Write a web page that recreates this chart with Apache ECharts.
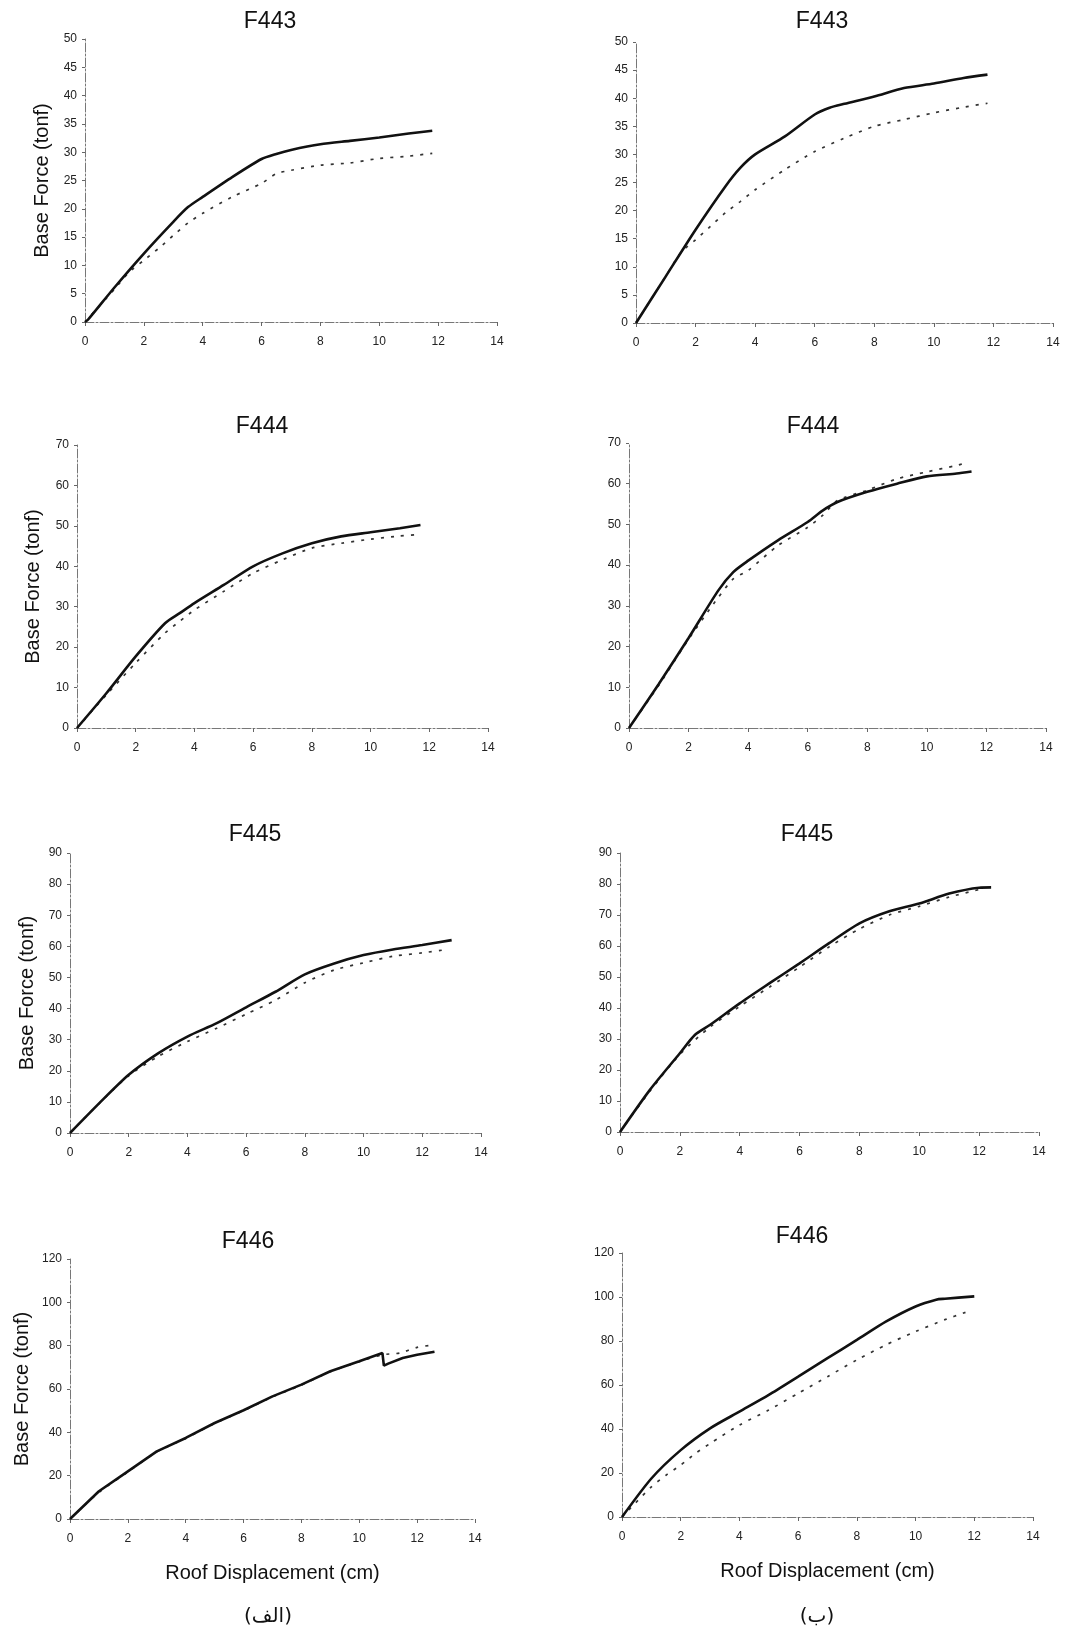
<!DOCTYPE html>
<html>
<head>
<meta charset="utf-8">
<script src="https://cdn.jsdelivr.net/npm/echarts@6/dist/echarts.min.js"></script>
<style>
html,body{margin:0;padding:0;background:#fff;}
#chart{width:1073px;height:1636px;}
</style>
</head>
<body>
<div id="chart"></div>
<script>
// ---------- DATA ----------
const panelTitles = ['F443', 'F443', 'F444', 'F444', 'F445', 'F445', 'F446', 'F446'];
const yMax = [50, 50, 70, 70, 90, 90, 120, 120];
const yStep = [5, 5, 10, 10, 10, 10, 20, 20];
const xMax = 14;
const xStep = 2;
const yAxisName = 'Base Force (tonf)';
const xAxisName = 'Roof Displacement (cm)';
const subLabels = ['(الف)', '(ب)'];

// F443 left
const f443L_solid = [[0,0],[0.1,0.4],[1,6.1],[2,12.1],[3,17.7],[3.5,20.3],[4,22.1],[5,25.6],[6,28.8],[6.5,29.7],[7,30.4],[8,31.4],[9,32.0],[10,32.6],[11,33.3],[11.8,33.8]];
const f443L_dash  = [[0,0],[1,5.8],[1.5,8.8],[2,10.9],[2.5,13.0],[3,15.3],[3.5,17.5],[4,19.2],[5,22.1],[6,24.5],[6.5,26.2],[7,26.8],[8,27.7],[9,28.1],[10,28.9],[11,29.3],[11.8,29.8]];
// F443 right
const f443R_solid = [[0,0],[1,8.3],[2,16.6],[3,24.3],[3.5,27.6],[4,30.0],[5,33.2],[6,37.1],[6.5,38.3],[7,39.0],[8,40.3],[9,41.8],[10,42.6],[11,43.6],[11.8,44.2]];
const f443R_dash  = [[0,0],[1,8.3],[1.5,12.5],[2,14.8],[2.5,17.2],[3,19.6],[3.5,21.6],[4,23.7],[5,27.3],[6,30.5],[7,32.9],[8,35.0],[9,36.2],[10,37.4],[11,38.4],[11.8,39.1]];
// F444 left
const f444L_solid = [[0,0],[1,8.6],[2,17.7],[3,25.9],[3.5,28.4],[4,30.9],[5,35.4],[6,40.0],[7,43.2],[8,45.7],[9,47.4],[10,48.4],[11,49.4],[11.7,50.2]];
const f444L_dash  = [[0,0],[1,8.2],[2,16.1],[3,23.5],[3.5,26.4],[4,29.2],[5,33.8],[6,38.3],[7,41.6],[8,44.5],[9,45.7],[10,46.7],[11,47.5],[11.6,47.8]];
// F444 right
const f444R_solid = [[0,0],[1,10.8],[2,22.1],[3,33.8],[3.5,38.3],[4,41.1],[5,46.1],[6,50.6],[6.5,53.4],[7,55.5],[8,58.0],[9,60.0],[10,61.8],[11,62.5],[11.5,63.0]];
const f444R_dash  = [[0,0],[1,10.5],[2,21.8],[3,32.1],[3.5,36.6],[4,38.7],[5,44.8],[6,49.3],[6.5,52.2],[7,55.9],[8,58.4],[9,61.2],[10,62.9],[11,64.5],[11.3,65.1]];
// F445 left
const f445L_solid = [[0,0],[1,9.6],[2,18.7],[3,25.6],[4,31.0],[5,35.3],[6,40.4],[7,45.4],[8,51.0],[9,54.5],[10,57.2],[11,59.0],[12,60.4],[13,62.0]];
const f445L_dash  = [[0,0],[1,9.6],[2,18.4],[3,24.6],[4,29.4],[5,33.7],[6,38.2],[7,42.7],[8,48.3],[9,52.4],[10,54.7],[11,56.8],[12,57.9],[12.7,58.8]];
// F445 right
const f445R_solid = [[0,0],[1,13.6],[2,25.4],[2.5,31.3],[3,34.5],[4,41.5],[5,48.0],[6,54.4],[7,61.0],[8,67.3],[9,71.2],[10,73.7],[11,76.9],[12,78.8],[12.4,78.9]];
const f445R_dash  = [[0,0],[1,13.2],[2,25.0],[3,33.8],[4,40.5],[5,46.8],[6,53.2],[7,59.8],[8,65.5],[9,70.0],[10,72.8],[11,75.8],[12,78.2]];
// F446 left
const f446L_solid = [[0,0],[1,12.8],[2,22.0],[3,31.2],[4,37.4],[5,44.3],[6,50.2],[7,56.6],[8,62.0],[9,68.2],[10,72.8],[10.8,76.6],[10.85,70.8],[11,71.7],[11.5,74.3],[12,75.8],[12.6,77.2]];
const f446L_dash  = [[0,0],[1,12.3],[2,21.7],[3,31.0],[4,37.2],[5,44.1],[6,50.0],[7,56.4],[8,61.8],[9,68.0],[10,72.6],[10.8,75.8],[11.4,76.6],[12,79.2],[12.6,80.4]];
// F446 right
const f446R_solid = [[0,0],[1,17.5],[2,30.4],[3,40.3],[4,47.9],[5,55.5],[6,63.8],[7,72.2],[8,80.5],[9,88.9],[10,95.7],[10.7,98.8],[11,99.2],[12,100.3]];
const f446R_dash  = [[0,0],[1,13.7],[1.5,19.0],[2,23.6],[2.5,28.9],[3,33.4],[4,41.8],[5,48.6],[6,56.2],[7,63.8],[8,71.4],[9,78.3],[10,84.3],[11,89.7],[11.7,93.0]];

const solidSeries = [f443L_solid, f443R_solid, f444L_solid, f444R_solid, f445L_solid, f445R_solid, f446L_solid, f446R_solid];
const dashSeries  = [f443L_dash, f443R_dash, f444L_dash, f444R_dash, f445L_dash, f445R_dash, f446L_dash, f446R_dash];

// ---------- LAYOUT ----------
const gridBoxes = [
  {left: 85,  top: 39,   width: 412, height: 283},
  {left: 636, top: 42,   width: 417, height: 281},
  {left: 77,  top: 445,  width: 411, height: 283},
  {left: 629, top: 443,  width: 417, height: 285},
  {left: 70,  top: 853,  width: 411, height: 280},
  {left: 620, top: 853,  width: 419, height: 279},
  {left: 70,  top: 1259, width: 405, height: 260},
  {left: 622, top: 1253, width: 411, height: 264}
];
const titlePos = [[270,22],[822,22],[262,427],[813,427],[255,835],[807,835],[248,1242],[802,1237]];
const yNameGap = [33, 0, 34, 0, 33, 0, 38, 0];
const subPos = [[268,1617],[817,1617]];

const FONT = '"Liberation Sans", Arial, Helvetica, sans-serif';
const axisLineStyle = {color: '#777', width: 1, type: [9, 2, 2, 2]};

const grids = [], xAxes = [], yAxes = [], series = [], graphics = [];
for (let i = 0; i < 8; i++) {
  const g = gridBoxes[i];
  grids.push({left: g.left, top: g.top, width: g.width, height: g.height, containLabel: false});
  const isBottom = i >= 6;
  const isLeft = i % 2 === 0;
  xAxes.push({
    type: 'value', gridIndex: i, min: 0, max: xMax, interval: xStep,
    axisLine: {show: true, onZero: false, lineStyle: axisLineStyle},
    axisTick: {show: true, length: 4, inside: false, lineStyle: {color: '#666'}},
    axisLabel: {color: '#222', fontSize: 12, fontFamily: FONT, margin: 14},
    splitLine: {show: false},
    name: isBottom ? xAxisName : '',
    nameLocation: 'middle', nameGap: 44,
    nameTextStyle: {color: '#111', fontSize: 20, fontFamily: FONT}
  });
  yAxes.push({
    type: 'value', gridIndex: i, min: 0, max: yMax[i], interval: yStep[i],
    axisLine: {show: true, lineStyle: axisLineStyle},
    axisTick: {show: true, length: 3, lineStyle: {color: '#666'}},
    axisLabel: {color: '#222', fontSize: 12, fontFamily: FONT, margin: 8},
    splitLine: {show: false},
    name: isLeft ? yAxisName : '',
    nameLocation: 'middle', nameGap: yNameGap[i], nameRotate: 90,
    nameTextStyle: {color: '#111', fontSize: 20, fontFamily: FONT}
  });
  series.push({
    type: 'line', xAxisIndex: i, yAxisIndex: i, data: dashSeries[i],
    showSymbol: false, symbol: 'none', smooth: 0.25,
    lineStyle: {color: '#333', width: 1.7, type: [3, 7]}, z: 2
  });
  series.push({
    type: 'line', xAxisIndex: i, yAxisIndex: i, data: solidSeries[i],
    showSymbol: false, symbol: 'none', smooth: i === 6 ? 0 : 0.25,
    lineStyle: {color: '#111', width: 2.6, type: 'solid'}, z: 3
  });
  graphics.push({
    type: 'text', x: titlePos[i][0], y: titlePos[i][1],
    style: {text: panelTitles[i], fontSize: 23, fontFamily: FONT, fill: '#111', textAlign: 'center', textVerticalAlign: 'middle'}
  });
}
for (let k = 0; k < 2; k++) {
  graphics.push({
    type: 'text', x: subPos[k][0], y: subPos[k][1],
    style: {text: subLabels[k], fontSize: 20, fontFamily: '"DejaVu Sans", "Noto Sans", sans-serif', fill: '#111', textAlign: 'center', textVerticalAlign: 'middle'}
  });
}

const chart = echarts.init(document.getElementById('chart'), null, {renderer: 'canvas'});
chart.setOption({
  backgroundColor: '#fff',
  animation: false,
  grid: grids, xAxis: xAxes, yAxis: yAxes, series: series,
  graphic: graphics
});
</script>
</body>
</html>
